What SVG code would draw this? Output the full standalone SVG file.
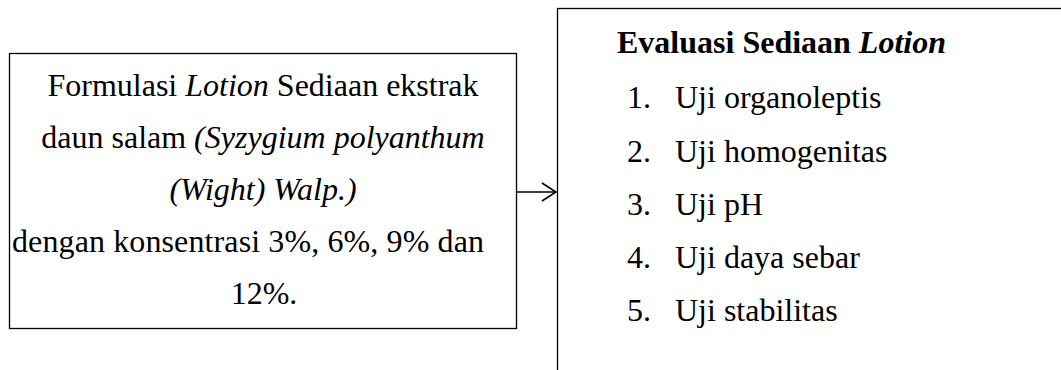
<svg xmlns="http://www.w3.org/2000/svg" width="1061" height="370" viewBox="0 0 1061 370">
  <style>
    .box { fill: #ffffff; stroke: #000000; stroke-width: 1.3; }
    text { font-family: 'Liberation Serif', 'Times New Roman', serif; font-size: 32px; fill: #000000; }
    .i { font-style: italic; }
    .b { font-weight: bold; }
    .edge { fill: none; stroke: #000000; stroke-width: 1.6; }
  </style>
  <defs>
    <marker id="open-arrow" markerWidth="18" markerHeight="22" refX="15" refY="10" orient="auto" markerUnits="userSpaceOnUse">
      <path d="M 1 1 L 15 10 L 1 19" fill="none" stroke="#000000" stroke-width="1.6"/>
    </marker>
  </defs>
  <rect width="1061" height="370" fill="#ffffff"/>

  <g id="formulation">
    <rect class="box" x="9.5" y="53.5" width="507" height="275"/>
    <text x="263" y="96" text-anchor="middle">Formulasi <tspan class="i">Lotion</tspan> Sediaan ekstrak</text>
    <text x="263" y="148" text-anchor="middle">daun salam <tspan class="i">(Syzygium polyanthum</tspan></text>
    <text x="263" y="200" text-anchor="middle" class="i">(Wight) Walp.)</text>
    <text x="12" y="252" textLength="472" lengthAdjust="spacing">dengan konsentrasi 3%, 6%, 9% dan</text>
    <text x="264" y="304" text-anchor="middle">12%.</text>
  </g>

  <g id="evaluation">
    <rect class="box" x="557.5" y="8.5" width="520" height="380"/>
    <text class="b" x="617" y="53">Evaluasi Sediaan <tspan class="i">Lotion</tspan></text>
    <text x="627" y="108">1.</text><text x="675" y="108">Uji organoleptis</text>
    <text x="627" y="162">2.</text><text x="675" y="162">Uji homogenitas</text>
    <text x="627" y="215">3.</text><text x="675" y="215">Uji pH</text>
    <text x="627" y="268">4.</text><text x="675" y="268">Uji daya sebar</text>
    <text x="627" y="321">5.</text><text x="675" y="321">Uji stabilitas</text>
  </g>

  <g id="connectors">
    <line class="edge" x1="517" y1="192" x2="556" y2="192" marker-end="url(#open-arrow)"/>
  </g>
</svg>
